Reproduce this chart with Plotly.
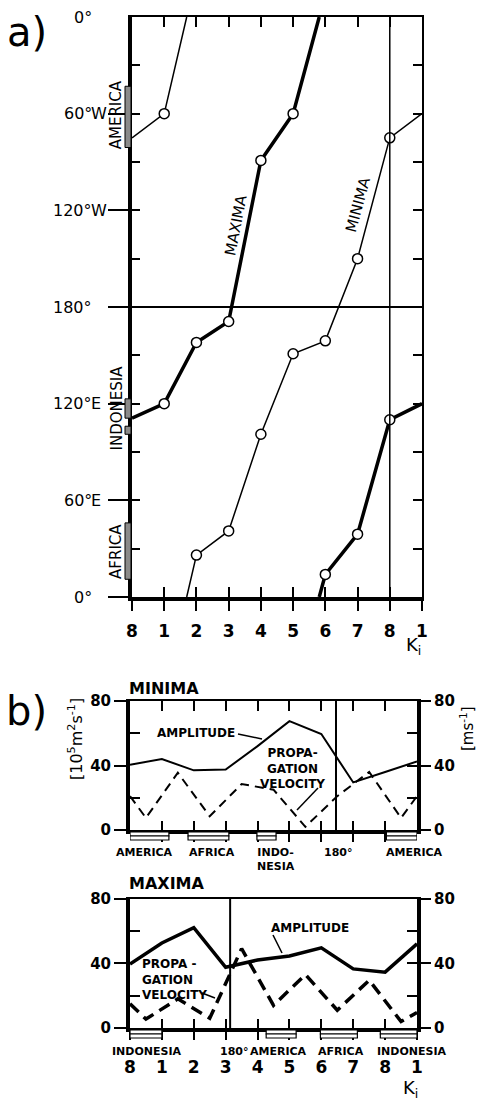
import plotly.graph_objects as go

W, H = 479, 1101
FONT = "DejaVu Sans"

# ------------------------------------------------------------------ data
k_labels = ["8", "1", "2", "3", "4", "5", "6", "7", "8", "1"]
k_pos = list(range(len(k_labels)))

# panel a : longitude of the extrema (degrees counted westward, 0 at top, 360 at bottom)
a_minima_lon = [75, 60, 334, 319, 259, 209, 201, 150, 75, 60]
a_maxima_lon = [249, 240, 202, 189, 89, 60, 346, 321, 250, 240]
lon_tickvals = [0, 60, 120, 180, 240, 300, 360]
lon_ticktext = ["0°", "60°W", "120°W", "180°", "120°E", "60°E", "0°"]
lon_minor = [30, 60, 90, 120, 150, 180, 210, 240, 270, 300, 330]
a_region_names = ["AMERICA", "INDONESIA", "AFRICA"]
a_region_centers = [61, 243, 332]
a_region_spans = [(43, 81), (237, 249), (254, 259), (314, 349)]
a_line_names = ["MAXIMA", "MINIMA"]
k8_line = 8

# panel b
vel_pos = [0, 0.5, 1.5, 2.5, 3.5, 4.5, 5.5, 6.5, 7.5, 8.5, 9]
min_amp = [40.5, 44, 37, 37.5, 52, 67.5, 59.5, 29.5, 36, 42.5]
min_vel = [21, 7.5, 35.5, 8.5, 28.5, 25, 2, 21, 36, 7.5, 21]
max_amp = [39.5, 52.5, 62, 37.5, 42, 44.5, 49.5, 36.5, 34.5, 52]
max_vel = [15, 5.5, 18, 6, 49, 14, 33, 11, 29.5, 4, 9.5]
b_ticks = [0, 40, 80]
b_minor_left = [20, 60]
b_minor_right = [20, 40, 60]
min_180_k = 6.46
max_180_k = 3.14
min_region_names = ["AMERICA", "AFRICA", "INDO-<br>NESIA", "180°", "AMERICA"]
min_region_k = [0.47, 2.57, 4.58, 6.53, 8.92]
min_boxes = [(0, 1.22), (1.82, 3.1), (3.98, 4.58), (8.04, 9)]
max_region_names = ["INDONESIA", "180°", "AMERICA", "AFRICA", "INDONESIA"]
max_region_k = [0.53, 3.27, 4.65, 6.62, 8.85]
max_boxes = [(0, 1.0), (4.27, 5.21), (5.97, 7.13), (7.85, 9)]


# ------------------------------------------------------------------ helpers
def px(x):
    return x / W


def py(y):
    return 1 - y / H


def wrap_segments(xs, ys, period=360):
    """split a longitude line where it leaves the top/bottom of the chart"""
    ox, oy = [xs[0]], [ys[0]]
    for i in range(1, len(xs)):
        x0, y0, x1, y1 = xs[i - 1], ys[i - 1], xs[i], ys[i]
        d = y1 - y0
        if abs(d) > period / 2:
            y1c = y1 - period if d > 0 else y1 + period
            edge = 0 if d > 0 else period
            t = (edge - y0) / (y1c - y0)
            xc = x0 + t * (x1 - x0)
            ox += [xc, None, xc]
            oy += [edge, None, period - edge]
        ox.append(x1)
        oy.append(y1)
    return ox, oy


def axis(**kw):
    base = dict(showgrid=False, zeroline=False, ticks="", showticklabels=False,
                showline=False, tickcolor="black", linecolor="black", tickwidth=2,
                fixedrange=True, tickmode="array", automargin=False)
    base.update(kw)
    return base


annotations = []


def txt(text, x, y, size=14, xref="paper", yref="paper", angle=0,
        xanchor="center", yanchor="middle", bold=False, align="center"):
    if bold:
        text = "<b>" + text + "</b>"
    annotations.append(dict(text=text, x=x, y=y, xref=xref, yref=yref, showarrow=False,
                            textangle=angle, xanchor=xanchor, yanchor=yanchor, align=align,
                            font=dict(family=FONT, size=size, color="black")))


fig = go.Figure()

# ------------------------------------------------------------------ panel a traces
for lons, width in [(a_minima_lon, 1.5), (a_maxima_lon, 3.5)]:
    lx, ly = wrap_segments(k_pos, lons)
    fig.add_trace(go.Scatter(x=lx, y=ly, mode="lines", line=dict(color="black", width=width),
                             xaxis="x", yaxis="y", showlegend=False, hoverinfo="skip",
                             cliponaxis=False))
    fig.add_trace(go.Scatter(x=k_pos[1:-1], y=lons[1:-1], mode="markers",
                             marker=dict(symbol="circle", size=10, color="white",
                                         line=dict(color="black", width=1.5)),
                             xaxis="x", yaxis="y", showlegend=False, hoverinfo="skip",
                             cliponaxis=False))

# ------------------------------------------------------------------ panel b traces
for amp, vel, w, dash, xa, ya in [
    (min_amp, min_vel, 2, "9px,6px", "x4", "y4"),
    (max_amp, max_vel, 3.5, "12px,7px", "x7", "y8"),
]:
    fig.add_trace(go.Scatter(x=k_pos, y=amp, mode="lines", line=dict(color="black", width=w),
                             xaxis=xa, yaxis=ya, showlegend=False, hoverinfo="skip"))
    fig.add_trace(go.Scatter(x=vel_pos, y=vel, mode="lines",
                             line=dict(color="black", width=w, dash=dash),
                             xaxis=xa, yaxis=ya, showlegend=False, hoverinfo="skip"))

# dummy traces so that overlay axes are drawn
for xa, ya in [("x2", "y2"), ("x3", "y3"), ("x5", "y5"), ("x6", "y6"), ("x5", "y7"),
               ("x8", "y9"), ("x9", "y10"), ("x8", "y11")]:
    fig.add_trace(go.Scatter(x=[None], y=[None], xaxis=xa, yaxis=ya, showlegend=False,
                             hoverinfo="skip"))

# ------------------------------------------------------------------ axes
dom_a_x = [px(132), px(422)]
dom_a_y = [py(597), py(17)]
dom_b_x = [px(130), px(417)]
dom_min_y = [py(830), py(701)]
dom_max_y = [py(1028), py(898.5)]
inner_k = k_pos[1:-1]
kfont = dict(family=FONT, size=17, color="black", weight="bold")
bfont = dict(family=FONT, size=15, color="black", weight="bold")

layout_axes = dict(
    # ---- panel a
    xaxis=axis(domain=dom_a_x, range=[0, 9], anchor="y", side="bottom", tickvals=k_pos,
               ticktext=k_labels, ticks="outside", ticklen=10, showticklabels=True,
               showline=True, linewidth=4, ticklabelstandoff=6, tickfont=kfont),
    xaxis2=axis(overlaying="x", range=[0, 9], anchor="y", side="bottom", tickvals=inner_k,
                ticks="inside", ticklen=10),
    xaxis3=axis(overlaying="x", range=[0, 9], anchor="y", side="top", tickvals=inner_k,
                ticks="inside", ticklen=10, showline=True, linewidth=2),
    yaxis=axis(domain=dom_a_y, range=[360, 0], anchor="x", side="left",
               tickvals=lon_tickvals[1:], ticks="outside", ticklen=20, showline=True,
               linewidth=4),
    yaxis2=axis(overlaying="y", range=[360, 0], anchor="x", side="left", tickvals=lon_minor,
                ticks="inside", ticklen=8),
    yaxis3=axis(overlaying="y", range=[360, 0], anchor="x", side="right", tickvals=lon_minor,
                ticks="inside", ticklen=9, showline=True, linewidth=2),
    # ---- panel b, minima
    xaxis4=axis(domain=dom_b_x, range=[0, 9], anchor="y4", side="bottom", tickvals=inner_k,
                ticks="outside", ticklen=8, showline=True, linewidth=4),
    xaxis5=axis(overlaying="x4", range=[0, 9], anchor="y4", side="bottom", tickvals=inner_k,
                ticks="inside", ticklen=9),
    xaxis6=axis(overlaying="x4", range=[0, 9], anchor="y4", side="top", tickvals=inner_k,
                ticks="inside", ticklen=10, showline=True, linewidth=2),
    yaxis4=axis(domain=dom_min_y, range=[0, 80], anchor="x4", side="left", tickvals=b_ticks,
                ticks="outside", ticklen=12, showticklabels=True, showline=True, linewidth=4,
                tickfont=bfont),
    yaxis5=axis(overlaying="y4", range=[0, 80], anchor="x4", side="left",
                tickvals=b_minor_left, ticks="inside", ticklen=10),
    yaxis6=axis(overlaying="y4", range=[0, 80], anchor="x4", side="right", tickvals=b_ticks,
                ticks="outside", ticklen=10, showticklabels=True, showline=True, linewidth=4,
                tickfont=bfont),
    yaxis7=axis(overlaying="y4", range=[0, 80], anchor="x4", side="right",
                tickvals=b_minor_right, ticks="inside", ticklen=10),
    # ---- panel b, maxima
    xaxis7=axis(domain=dom_b_x, range=[0, 9], anchor="y8", side="bottom", tickvals=k_pos,
                ticktext=k_labels, ticks="outside", ticklen=8, showticklabels=True,
                showline=True, linewidth=4, ticklabelstandoff=13, tickfont=kfont),
    xaxis8=axis(overlaying="x7", range=[0, 9], anchor="y8", side="bottom", tickvals=inner_k,
                ticks="inside", ticklen=9),
    xaxis9=axis(overlaying="x7", range=[0, 9], anchor="y8", side="top", tickvals=[],
                showline=True, linewidth=2),
    yaxis8=axis(domain=dom_max_y, range=[0, 80], anchor="x7", side="left", tickvals=b_ticks,
                ticks="outside", ticklen=12, showticklabels=True, showline=True, linewidth=4,
                tickfont=bfont),
    yaxis9=axis(overlaying="y8", range=[0, 80], anchor="x7", side="left",
                tickvals=b_minor_left, ticks="inside", ticklen=10),
    yaxis10=axis(overlaying="y8", range=[0, 80], anchor="x7", side="right", tickvals=b_ticks,
                 ticks="outside", ticklen=10, showticklabels=True, showline=True, linewidth=4,
                 tickfont=bfont),
    yaxis11=axis(overlaying="y8", range=[0, 80], anchor="x7", side="right",
                 tickvals=b_minor_right, ticks="inside", ticklen=10),
)

# ------------------------------------------------------------------ shapes
shapes = []
# 180° line and k=8 line in panel a
shapes.append(dict(type="line", xref="x domain", yref="y", x0=0, x1=1, y0=180, y1=180,
                   line=dict(color="black", width=2)))
shapes.append(dict(type="line", xref="x", yref="y domain", x0=k8_line, x1=k8_line, y0=0, y1=1,
                   line=dict(color="black", width=1.5)))
# continent bars along the left axis of panel a
for y0, y1 in a_region_spans:
    shapes.append(dict(type="rect", xref="paper", yref="y", x0=px(125), x1=px(131), y0=y0,
                       y1=y1, fillcolor="#8a8a8a", line=dict(color="black", width=1)))
# 180° lines in panel b
shapes.append(dict(type="line", xref="x4", yref="y4 domain", x0=min_180_k, x1=min_180_k,
                   y0=0, y1=1, line=dict(color="black", width=2)))
shapes.append(dict(type="line", xref="x7", yref="y8 domain", x0=max_180_k, x1=max_180_k,
                   y0=0, y1=1, line=dict(color="black", width=2)))
# continent boxes below panel b axes
for boxes, xr, ytop in [(min_boxes, "x4", 832), (max_boxes, "x7", 1030)]:
    for a, b in boxes:
        for yy0, yy1 in [(ytop, ytop + 4), (ytop + 4, ytop + 8)]:
            shapes.append(dict(type="rect", xref=xr, yref="paper", x0=a, x1=b, y0=py(yy1),
                               y1=py(yy0), fillcolor="white",
                               line=dict(color="black", width=1.2)))
# leader lines of the labels in panel b
for x0, y0, x1, y1 in [(238, 734, 262, 739), (318, 788, 297, 810),
                       (273, 935, 282, 953), (202, 993, 215, 998)]:
    shapes.append(dict(type="line", xref="paper", yref="paper", x0=px(x0), y0=py(y0),
                       x1=px(x1), y1=py(y1), line=dict(color="black", width=1.5)))

# ------------------------------------------------------------------ texts
txt("a)", px(27), py(32), size=40)
txt("b)", px(26), py(711), size=40)

for val, lab in zip(lon_tickvals, lon_ticktext):
    cut = lab.index("°") + 1
    txt(lab[:cut], px(94), val, size=16, yref="y", xanchor="right")
    if lab[cut:]:
        txt(lab[cut:], px(89), val, size=16, yref="y", xanchor="left")

for name, c in zip(a_region_names, a_region_centers):
    txt(name, px(116), c, size=15, yref="y", angle=-90)

txt(a_line_names[0], px(236), py(225), size=15, angle=-79)
txt(a_line_names[1], px(358), py(205), size=15, angle=-75)
txt("K<sub>i</sub>", px(413), py(646), size=18)
txt("K<sub>i</sub>", px(410), py(1089), size=18)

txt("MINIMA", px(127), py(688), size=16, xanchor="left", bold=True)
txt("MAXIMA", px(127), py(883), size=16, xanchor="left", bold=True)
txt("[10<sup>5</sup>m<sup>2</sup>s<sup>-1</sup>]", px(75), py(739), size=16, angle=-90)
txt("[ms<sup>-1</sup>]", px(467), py(729), size=15, angle=-90)

txt("AMPLITUDE", px(196), py(733), size=12, bold=True)
txt("PROPA-<br>GATION<br>VELOCITY", px(292), py(768), size=12, bold=True)
txt("AMPLITUDE", px(310), py(928), size=12, bold=True)
txt("PROPA -<br>GATION<br>VELOCITY", px(140), py(979), size=12, bold=True,
    xanchor="left", align="left")

for names, ks, xr, ytop in [(min_region_names, min_region_k, "x4", 844),
                            (max_region_names, max_region_k, "x7", 1043)]:
    for name, k in zip(names, ks):
        txt(name, k, py(ytop), size=11, xref=xr, yanchor="top", bold=True)

fig.update_layout(
    width=W, height=H, margin=dict(l=0, r=0, t=0, b=0, pad=0, autoexpand=False),
    paper_bgcolor="white", plot_bgcolor="white",
    font=dict(family=FONT, color="black"),
    shapes=shapes, annotations=annotations, showlegend=False,
    **layout_axes,
)

fig.write_html("out.html", config={"displayModeBar": False},
               post_script="document.body.style.margin='0px';")
